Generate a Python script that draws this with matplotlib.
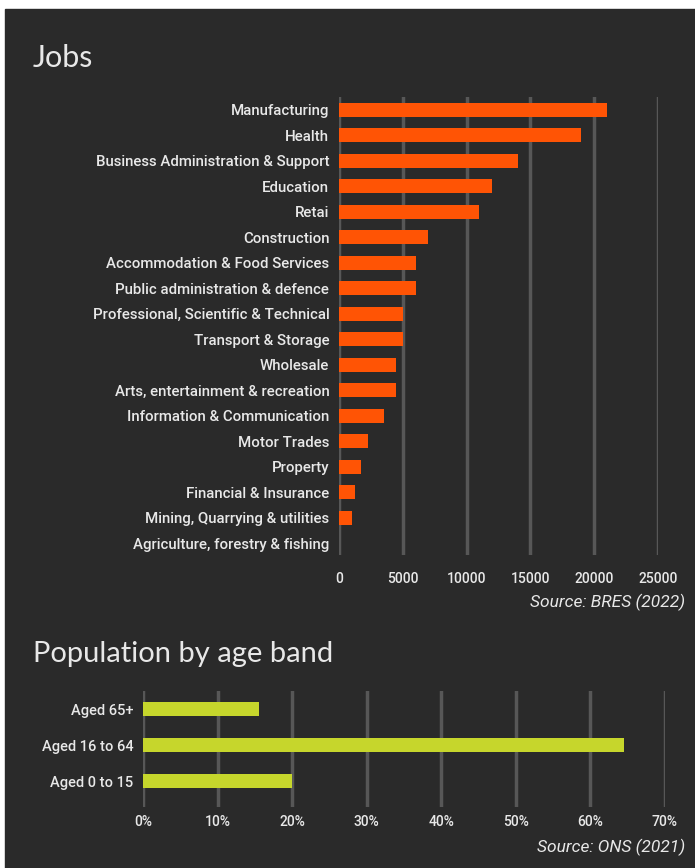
import matplotlib.pyplot as plt
from matplotlib.patches import Rectangle

sectors = ["Manufacturing", "Health", "Business Administration & Support",
           "Education", "Retai", "Construction",
           "Accommodation & Food Services", "Public administration & defence",
           "Professional, Scientific & Technical", "Transport & Storage",
           "Wholesale", "Arts, entertainment & recreation",
           "Information & Communication", "Motor Trades", "Property",
           "Financial & Insurance", "Mining, Quarrying & utilities",
           "Agriculture, forestry & fishing"]
jobs = [21000, 19000, 14000, 12000, 11000, 7000, 6000, 6000, 5000, 5000,
        4500, 4500, 3500, 2250, 1750, 1250, 1000, 0]
jobs_ticks = [0, 5000, 10000, 15000, 20000, 25000]

ages = ["Aged 65+", "Aged 16 to 64", "Aged 0 to 15"]
age_pct = [15.5, 64.5, 20.0]
age_ticks = [0, 10, 20, 30, 40, 50, 60, 70]

BG = "#2a2a2a"
TXT = "#e8e8e8"
GRID = "#575757"
ORANGE = "#ff5405"
LIME = "#c6d62c"

W, H = 695, 868
fig = plt.figure(figsize=(W / 100, H / 100), dpi=100, facecolor="white")
fig.patches.append(Rectangle((5 / W, 0), 1 - 5 / W, 1 - 9 / H,
                             transform=fig.transFigure, color=BG, zorder=-10))

def px(x0, y0, x1, y1):
    return [x0 / W, 1 - y1 / H, (x1 - x0) / W, (y1 - y0) / H]

def style(ax, ysize, xsize):
    ax.set_facecolor("none")
    for s in ax.spines.values():
        s.set_visible(False)
    ax.tick_params(length=0, colors=TXT)
    ax.grid(axis="x", color=GRID, lw=2.5)
    ax.set_axisbelow(True)
    for lab in ax.get_yticklabels():
        lab.set(family="Roboto", weight="medium", size=ysize, color=TXT)
    for lab in ax.get_xticklabels():
        lab.set(family="Roboto", weight="medium", size=xsize, color=TXT)

# jobs by sector
ax1 = fig.add_axes(px(339, 97, 658, 555))
ax1.barh(range(len(sectors)), jobs, height=0.55, color=ORANGE)
ax1.set_xlim(0, 25000)
ax1.set_ylim(17.47, -0.51)
ax1.set_yticks(range(len(sectors)))
ax1.set_yticklabels(sectors)
ax1.set_xticks(jobs_ticks)
ax1.set_xticklabels([str(t) for t in jobs_ticks])
ax1.tick_params(axis="y", pad=7)
ax1.tick_params(axis="x", pad=12)
style(ax1, 10.8, 10)

# population by age band
ax2 = fig.add_axes(px(143, 691, 665, 807))
ax2.barh(range(len(ages)), age_pct, height=0.39, color=LIME)
ax2.set_xlim(0, 70)
ax2.set_ylim(2.72, -0.5)
ax2.set_yticks(range(len(ages)))
ax2.set_yticklabels(ages)
ax2.set_xticks(age_ticks)
ax2.set_xticklabels([f"{t}%" for t in age_ticks])
ax2.tick_params(axis="y", pad=7)
ax2.tick_params(axis="x", pad=6)
style(ax2, 10.5, 10)

fig.text(33 / W, 1 - 67 / H, "Jobs", fontsize=22, family="Lato",
         color=TXT, va="baseline")
fig.text(33 / W, 1 - 662 / H, "Population by age band", fontsize=21,
         family="Lato", color=TXT, va="baseline")
fig.text(685 / W, 1 - 602 / H, "Source: BRES (2022)", fontsize=12.5,
         style="italic", family="Roboto", color=TXT, ha="right", va="center")
fig.text(685 / W, 1 - 847 / H, "Source: ONS (2021)", fontsize=12.5,
         style="italic", family="Roboto", color=TXT, ha="right", va="center")

fig.savefig("out.png", dpi=100, facecolor=fig.get_facecolor())
